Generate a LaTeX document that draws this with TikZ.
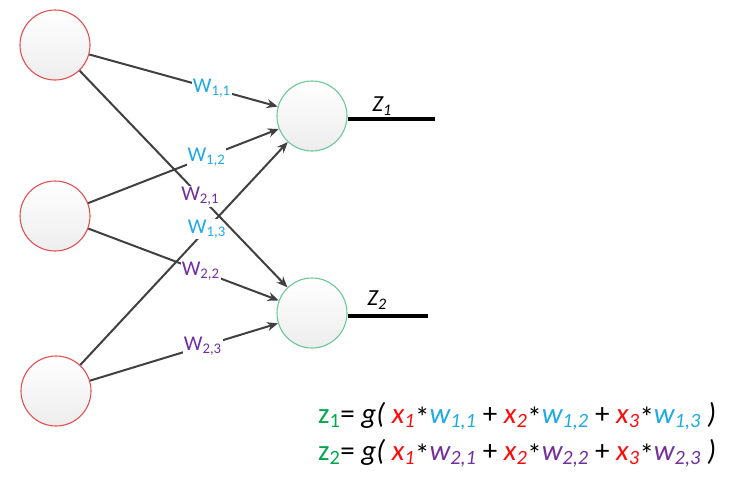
\documentclass[tikz,border=0pt]{standalone}
\usepackage{fontspec}
\setmainfont{Carlito}
\usepackage{xcolor}
\usetikzlibrary{arrows.meta,positioning,calc}

\definecolor{inred}{RGB}{228,80,80}
\definecolor{outgreen}{RGB}{110,200,150}
\definecolor{wcyan}{RGB}{30,170,230}
\definecolor{wpurple}{RGB}{112,48,160}
\definecolor{zgreen}{RGB}{0,168,80}
\definecolor{xred}{RGB}{255,10,10}
\definecolor{edgegray}{RGB}{64,64,64}

\newcommand{\mul}{\raisebox{-0.3ex}{*}}

\begin{document}
\begin{tikzpicture}[
    x=1pt, y=-1pt,
    neuron/.style={circle, minimum size=70pt, inner sep=0pt, top color=white, bottom color=gray!14, line width=1.1pt},
    input/.style={neuron, draw=inred},
    output/.style={neuron, draw=outgreen},
    edge/.style={draw=edgegray, line width=2pt, -{Stealth[length=11pt,width=9pt]}},
    wlab/.style={fill=white, inner sep=1pt, font=\fontsize{21}{24}\selectfont},
    outline/.style={draw=black, line width=4pt},
    formula/.style={anchor=base west, inner sep=0pt, font=\fontsize{29}{34}\selectfont}
]
\useasboundingbox (0,0) rectangle (744,493);

% Input neurons
\node[input] (x1) at (55,45) {};
\node[input] (x2) at (55,216) {};
\node[input] (x3) at (56,391) {};

% Output neurons
\node[output] (z1) at (312,116) {};
\node[output] (z2) at (312,313) {};

% Weighted connections
\draw[edge] (x1) -- node[wlab, text=wcyan, pos=0.65] {W\textsubscript{1,1}} (z1);
\draw[edge] (x2) -- node[wlab, text=wcyan, pos=0.62] {W\textsubscript{1,2}} (z1);
\draw[edge] (x3) -- node[wlab, text=wcyan, pos=0.61] {W\textsubscript{1,3}} (z1);
\draw[edge] (x1) -- node[wlab, text=wpurple, pos=0.58] {W\textsubscript{2,1}} (z2);
\draw[edge] (x2) -- node[wlab, text=wpurple, pos=0.59] {W\textsubscript{2,2}} (z2);
\draw[edge] (x3) -- node[wlab, text=wpurple, pos=0.60] {W\textsubscript{2,3}} (z2);

% Outputs
\coordinate (o1) at (435,119);
\coordinate (o2) at (428,316);
\draw[outline] (z1.east |- o1) -- (o1);
\draw[outline] (z2.east |- o2) -- (o2);
\node[font=\fontsize{23}{26}\selectfont] (lz1) at (382,106) {\textit{Z\textsubscript{1}}};
\node[font=\fontsize{23}{26}\selectfont] (lz2) at (377,300) {\textit{Z\textsubscript{2}}};

% Formulas
\node[formula] (f1) at (318,423)
  {\textcolor{zgreen}{z\textsubscript{1}}= \textit{g(} \textcolor{xred}{\textit{x\textsubscript{1}}}\mul\textcolor{wcyan}{\textit{w\textsubscript{1,1}}} + \textcolor{xred}{\textit{x\textsubscript{2}}}\mul\textcolor{wcyan}{\textit{w\textsubscript{1,2}}} + \textcolor{xred}{\textit{x\textsubscript{3}}}\mul\textcolor{wcyan}{\textit{w\textsubscript{1,3}}} \textit{)}};
\node[formula] (f2) at (318,460)
  {\textcolor{zgreen}{z\textsubscript{2}}= \textit{g(} \textcolor{xred}{\textit{x\textsubscript{1}}}\mul\textcolor{wpurple}{\textit{w\textsubscript{2,1}}} + \textcolor{xred}{\textit{x\textsubscript{2}}}\mul\textcolor{wpurple}{\textit{w\textsubscript{2,2}}} + \textcolor{xred}{\textit{x\textsubscript{3}}}\mul\textcolor{wpurple}{\textit{w\textsubscript{2,3}}} \textit{)}};

\end{tikzpicture}
\end{document}
